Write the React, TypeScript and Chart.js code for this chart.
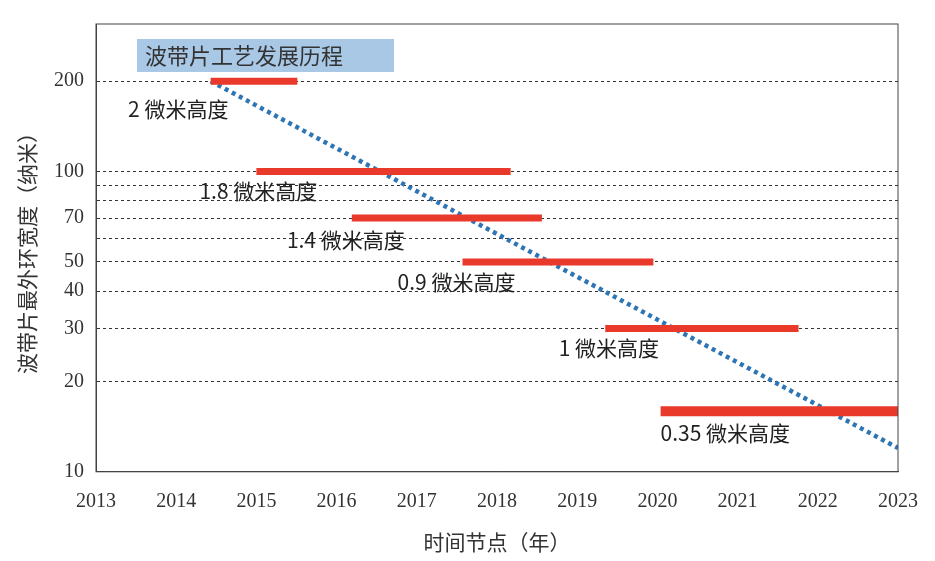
import React, { useEffect, useRef } from "react";
import { Chart, registerables } from "chart.js";
Chart.register(...registerables);

const segLabels = ["2 微米高度", "1.8 微米高度", "1.4 微米高度", "0.9 微米高度", "1 微米高度", "0.35 微米高度"];
const segStart = [2014.43, 2015.0, 2016.19, 2017.57, 2019.35, 2020.04];
const segEnd = [2015.51, 2018.17, 2018.56, 2019.95, 2021.76, 2023.0];
const segWidth = [200, 100, 70, 50, 30, 15.9];
const labelX = [2013.4, 2014.29, 2015.38, 2016.76, 2018.77, 2020.04];
const labelY = [162, 86, 59.3, 43, 25.8, 13.5];
const trendX = [2014.43, 2023.0];
const trendY = [200, 12.0];
const yGridValues = [10, 20, 30, 40, 50, 60, 70, 80, 90, 100, 200];
const yTickLabels = [10, 20, 30, 40, 50, 70, 100, 200];
const titleText = "波带片工艺发展历程";

export default function App() {
  const ref = useRef<HTMLCanvasElement>(null);
  useEffect(() => {
    document.body.style.margin = "0";
    const sans = "'Noto Sans CJK SC', 'Noto Sans', sans-serif";
    const datasets: any[] = segStart.map((s, i) => ({
      data: [{ x: s, y: segWidth[i] }, { x: segEnd[i], y: segWidth[i] }],
      borderColor: "#e8392a",
      borderWidth: i === 5 ? 10 : 7,
      pointRadius: 0,
      borderCapStyle: "butt",
    }));
    datasets.push({
      data: trendX.map((x, i) => ({ x, y: trendY[i] })),
      borderColor: "#2e75b6",
      borderWidth: 4.5,
      borderDash: [4, 4],
      pointRadius: 0,
    });
    const overlay = {
      id: "overlay",
      afterDatasetsDraw(c: any) {
        const ctx = c.ctx;
        const xs = c.scales.x, ys = c.scales.y, a = c.chartArea;
        ctx.save();
        ctx.strokeStyle = "#444";
        ctx.lineWidth = 1;
        ctx.strokeRect(a.left, a.top, a.right - a.left, a.bottom - a.top);
        ctx.font = `21px ${sans}`;
        ctx.fillStyle = "#222";
        ctx.textBaseline = "middle";
        ctx.textAlign = "left";
        segLabels.forEach((t, i) => ctx.fillText(t, xs.getPixelForValue(labelX[i]), ys.getPixelForValue(labelY[i])));
        ctx.fillStyle = "#a9c8e6";
        ctx.fillRect(a.left + 41, a.top + 15, 257, 33);
        ctx.fillStyle = "#333";
        ctx.font = `22px ${sans}`;
        ctx.fillText(titleText, a.left + 49, a.top + 32);
        ctx.restore();
      },
    };
    const chart = new Chart(ref.current!, {
      type: "line",
      data: { datasets },
      plugins: [overlay],
      options: {
        animation: false,
        responsive: false,
        layout: { padding: { top: 15, right: 37, bottom: 6, left: 42 } },
        plugins: { legend: { display: false }, tooltip: { enabled: false } },
        scales: {
          x: {
            type: "linear", min: 2013, max: 2023,
            ticks: { stepSize: 1, padding: 10, color: "#333", font: { family: "'Liberation Serif', serif", size: 20 }, callback: (v: any) => String(v) },
            grid: { display: false, drawTicks: true },
            border: { color: "#444" },
            title: { display: true, text: "时间节点（年）", padding: { top: 6, bottom: 0 }, color: "#333", font: { family: sans, size: 21 } },
          },
          y: {
            type: "logarithmic", min: 10, max: 310,
            afterBuildTicks: (s: any) => { s.ticks = yGridValues.map((v) => ({ value: v })); },
            ticks: {
              color: "#333", padding: 12, font: { family: "'Liberation Serif', serif", size: 20 },
              autoSkip: false,
              callback: (v: any) => (yTickLabels.includes(Number(v)) ? String(v) : ""),
            },
            grid: { color: "#333", drawTicks: false } as any,
            border: { dash: [3, 3], color: "#444" } as any,
            title: { display: false },
          },
        },
      },
      });
    // y axis title drawn separately
    const yt = {
      id: "yt",
      afterDraw(c: any) {
        const ctx = c.ctx, a = c.chartArea;
        ctx.save();
        ctx.translate(27, (a.top + a.bottom) / 2);
        ctx.rotate(-Math.PI / 2);
        ctx.font = `21px ${sans}`;
        ctx.fillStyle = "#333";
        ctx.textAlign = "center";
        ctx.textBaseline = "middle";
        ctx.fillText("波带片最外环宽度（纳米）", 0, 0);
        ctx.restore();
      },
    };
    (chart as any).config.plugins.push(yt);
    chart.update();
    return () => chart.destroy();
  }, []);
  return <canvas ref={ref} width={935} height={561} style={{ display: "block" }} />;
}
